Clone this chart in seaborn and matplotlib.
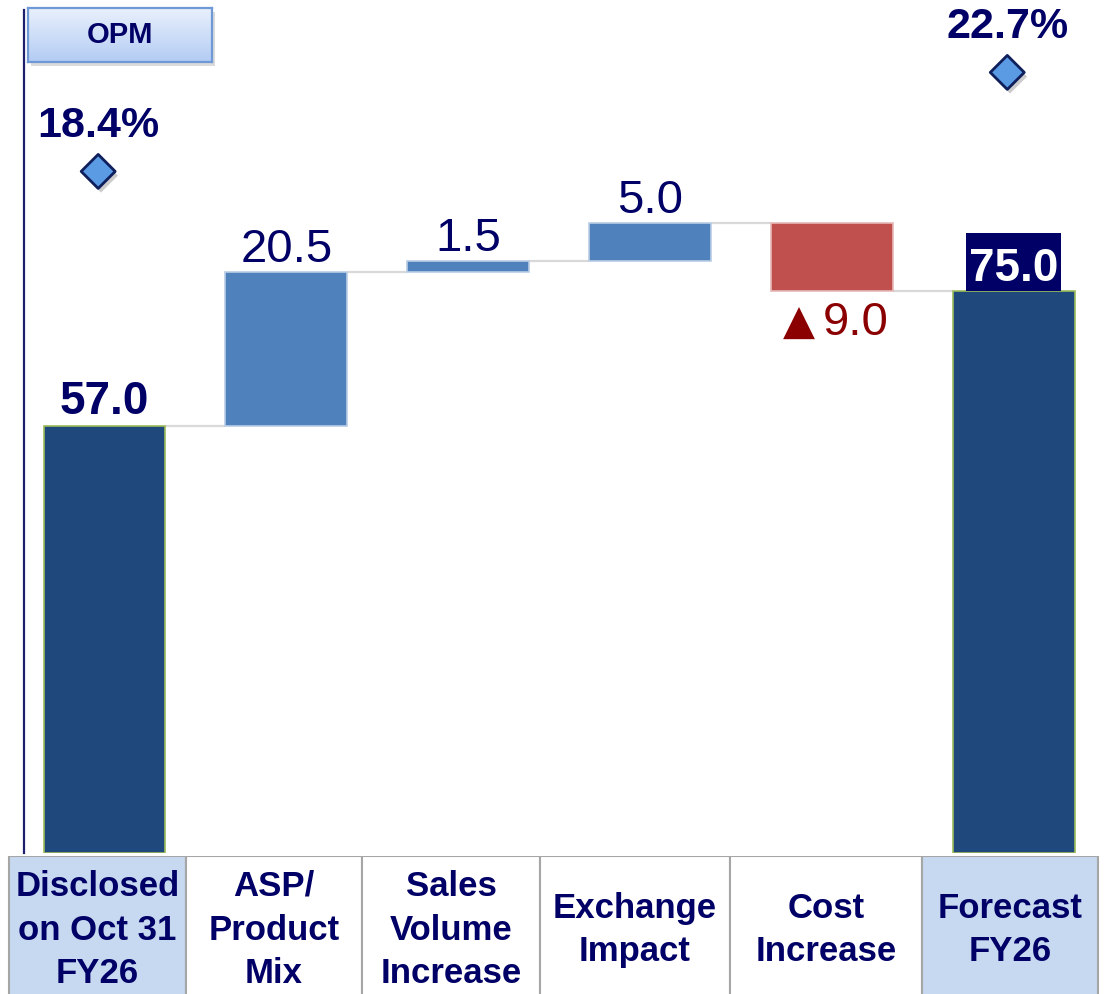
import matplotlib
matplotlib.use('Agg')
import numpy as np
import matplotlib.pyplot as plt
import matplotlib.patheffects as pe
from matplotlib.patches import Rectangle
from matplotlib.colors import LinearSegmentedColormap
import seaborn as sns

# --- data ---
steps = ['Disclosed', 'ASP', 'Volume', 'Exchange', 'Cost', 'Forecast']
table_labels = ['Disclosed\non Oct 31\nFY26', 'ASP/\nProduct\nMix', 'Sales\nVolume\nIncrease',
                'Exchange\nImpact', 'Cost\nIncrease', 'Forecast\nFY26']
changes = [57.0, 20.5, 1.5, 5.0, -9.0, 75.0]
kinds = ['total', 'up', 'up', 'up', 'down', 'total']
value_labels = ['57.0', '20.5', '1.5', '5.0', '\u25B29.0', '75.0']
opm_steps = ['Disclosed', 'Forecast']
opm_values = [18.4, 22.7]
opm_labels = ['18.4%', '22.7%']

W, H, DPI = 1105, 994, 100
NAVY = '#000066'
colors = {'total': '#1F497D', 'up': '#4F81BD', 'down': '#C0504D'}
edges_c = {'total': '#9BBB59', 'up': '#B9CDE5', 'down': '#E6B9B8'}

# waterfall geometry from the changes
bottoms, heights, levels = [], [], []
running = 0.0
for c, k in zip(changes, kinds):
    if k == 'total':
        bottoms.append(0.0)
        heights.append(c)
        running = c
    else:
        bottoms.append(running + min(c, 0))
        heights.append(abs(c))
        running += c
    levels.append(running)

sns.set_theme(style='white')
plt.rcParams['font.family'] = ['Liberation Sans', 'DejaVu Sans']

fig = plt.figure(figsize=(W / DPI, H / DPI), dpi=DPI)
fig.patch.set_facecolor('white')
ax = fig.add_axes([24 / W, (H - 853) / H, (1104 - 24) / W, (853 - 10) / H])
ax.patch.set_visible(False)

bw = 0.67
sns.barplot(x=steps, y=heights, bottom=bottoms, order=steps, width=bw, ax=ax,
            color=colors['up'], linewidth=1.2, zorder=2)
for p, k in zip(ax.patches, kinds):
    p.set_facecolor(colors[k])
    p.set_edgecolor(edges_c[k])

# connector lines
for i in range(len(steps) - 1):
    ax.plot([i + bw / 2, i + 1 - bw / 2], [levels[i], levels[i]], color='#D9D9D9',
            lw=1.6, zorder=1, solid_capstyle='butt')

# value labels
for i, (lab, k) in enumerate(zip(value_labels, kinds)):
    top = bottoms[i] + heights[i]
    if k == 'down':
        ax.annotate(lab[0], xy=(i, bottoms[i]), xytext=(-24, -32), textcoords='offset points',
                    ha='center', va='baseline', fontsize=30, color='#8B0000',
                    family=['DejaVu Sans'])
        ax.annotate(lab[1:], xy=(i, bottoms[i]), xytext=(17, -32), textcoords='offset points',
                    ha='center', va='baseline', fontsize=34, color='#8B0000')
    elif k == 'total' and i == len(steps) - 1:
        box_h = 58 / 7.5
        ax.add_patch(Rectangle((i - 0.26, top), 0.52, box_h, facecolor=NAVY,
                               edgecolor='none', zorder=3))
        ax.annotate(lab, xy=(i, top), xytext=(0, 7), textcoords='offset points',
                    ha='center', va='baseline', fontsize=33, fontweight='bold',
                    color='white', zorder=4)
    elif k == 'total':
        ax.annotate(lab, xy=(i, top), xytext=(0, 8), textcoords='offset points',
                    ha='center', va='baseline', fontsize=33, fontweight='bold', color=NAVY)
    else:
        ax.annotate(lab, xy=(i, top), xytext=(0, 7), textcoords='offset points',
                    ha='center', va='baseline', fontsize=34, color=NAVY)

ax.set_xlim(-0.443, 5.497)
ax.set_ylim(0, 112.4)
ax.set_xlabel('')
ax.set_ylabel('')
ax.set_xticks([])
ax.set_yticks([])
for s in ['top', 'right', 'bottom']:
    ax.spines[s].set_visible(False)
ax.spines['left'].set_color('#1F1F6F')
ax.spines['left'].set_linewidth(1.6)

# OPM diamonds on a secondary scale
ax2 = ax.twinx()
opm_x = [steps.index(s) - 0.035 for s in opm_steps]
sns.scatterplot(x=opm_x, y=opm_values, ax=ax2, marker='D', s=300,
                color='#5B9BE3', edgecolor='#0F1F5C', linewidth=2, zorder=5)
ax2.collections[0].set_path_effects([
    pe.SimplePatchShadow(offset=(2, -3), shadow_rgbFace='#808080', alpha=0.4), pe.Normal()])
for x, v, lab in zip(opm_x, opm_values, opm_labels):
    ax2.annotate(lab, xy=(x, v), xytext=(0, 25), textcoords='offset points',
                 ha='center', va='baseline', fontsize=31, fontweight='bold', color=NAVY)
ax2.set_ylim(-11.2, 25.41)
ax2.set_xlim(-0.443, 5.497)
ax2.set_yticks([])
ax2.set_ylabel('')
for s in ax2.spines.values():
    s.set_visible(False)

# category table under the bars
cell_edges = [9, 186, 362, 540, 730, 922, 1098]
tax = fig.add_axes([0, (H - 1004) / H, 1, 148 / H])
tax.set_xlim(0, W)
tax.set_ylim(0, 1)
tax.axis('off')
for i, lab in enumerate(table_labels):
    fc = '#C6D9F0' if kinds[i] == 'total' else 'white'
    tax.add_patch(Rectangle((cell_edges[i], 0), cell_edges[i + 1] - cell_edges[i], 1,
                            facecolor=fc, edgecolor='#A6A6A6', lw=1.5))
    tax.text((cell_edges[i] + cell_edges[i + 1]) / 2, 0.5, lab, ha='center', va='center',
             fontsize=25, fontweight='bold', color=NAVY, linespacing=1.42)

# OPM legend box
fig.add_artist(Rectangle((31 / W, 1 - 66 / H), 184 / W, 54 / H, transform=fig.transFigure,
                         facecolor='#9A9A9A', alpha=0.35, edgecolor='none', zorder=-1))
bax = fig.add_axes([28 / W, 1 - 62 / H, 184 / W, 54 / H])
bax.set_zorder(3)
grad = np.linspace(0, 1, 60).reshape(-1, 1)
cmap = LinearSegmentedColormap.from_list('opm', ['#EAF1FC', '#B3CCF3'])
bax.imshow(grad, aspect='auto', cmap=cmap, extent=[0, 1, 0, 1], origin='upper')
bax.set_xticks([])
bax.set_yticks([])
for s in bax.spines.values():
    s.set_color('#6F98D6')
    s.set_linewidth(1.6)
bax.text(0.5, 0.5, 'OPM', ha='center', va='center', fontsize=21, fontweight='bold',
         color=NAVY, transform=bax.transAxes)

fig.savefig('out.png', dpi=DPI)
plt.close(fig)
